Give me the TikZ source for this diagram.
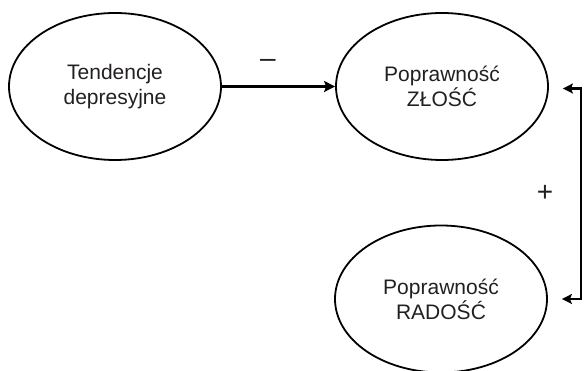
\documentclass[tikz,border=0pt]{standalone}
\usepackage{fontspec}
\setmainfont{Liberation Sans}
\usetikzlibrary{shapes.geometric,arrows.meta}
\definecolor{inkgray}{HTML}{231F20}
\begin{document}
\begin{tikzpicture}[x=1pt,y=1pt,
  every node/.style={text=inkgray},
  state/.style={ellipse,draw=black,line width=1.8pt,minimum width=212pt,minimum height=147pt,
    inner sep=0pt,align=center,font=\fontsize{21}{25}\selectfont},
  sign/.style={inner sep=0pt,font=\fontsize{28}{30}\selectfont},
  link/.style={line width=2.6pt,draw=black},
  tip/.style={-{Stealth[length=11pt,width=11pt,inset=2pt]}}]
  \useasboundingbox (0,0) rectangle (584,371);
  % Ellipses
  \node[state] (dep) at (115,284.5) {Tendencje\\depresyjne};
  \node[state] (zlosc) at (442,284.5) {Poprawność\\ZŁOŚĆ};
  \node[state] (radosc) at (441,72) {Poprawność\\RADOŚĆ};
  % Free ends of the bracket
  \coordinate (zend) at ([xshift=14pt,yshift=-2pt]zlosc.east);
  \coordinate (rend) at ([xshift=14pt]radosc.east);
  % Arrows
  \draw[link,tip] (dep.east) -- (zlosc.west);
  \draw[link,{Stealth[length=10pt,width=10pt,inset=2pt]}-{Stealth[length=10pt,width=10pt,inset=2pt]}] (zend) -- ++(18,0) |- (rend);
  % Signs
  \node[sign] (minus) at (268,308) {–};
  \node[sign] (plus) at (545,178) {+};
\end{tikzpicture}
\end{document}
